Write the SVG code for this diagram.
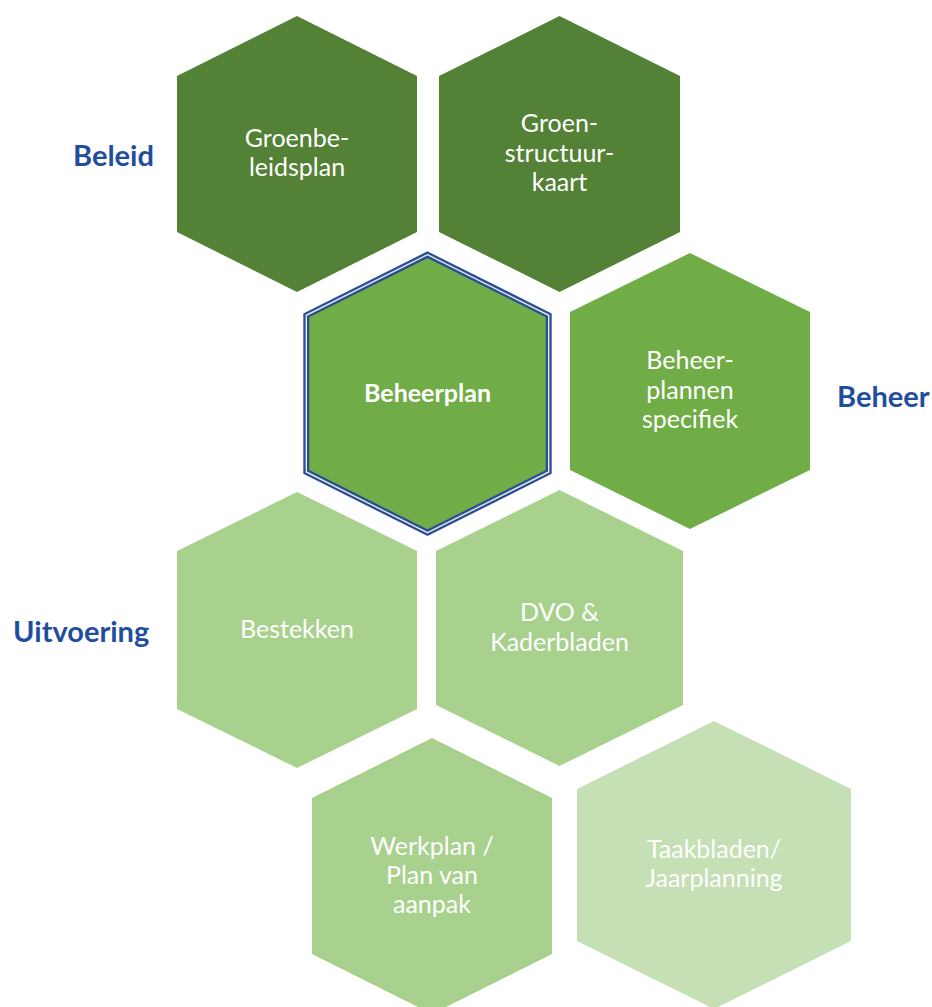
<svg xmlns="http://www.w3.org/2000/svg" width="932" height="1007" viewBox="0 0 932 1007">
<style>
.t{font-family:Lato,"Liberation Sans",sans-serif;font-size:25px;fill:#ffffff;text-anchor:middle}
.b{font-weight:bold}
.lbl{font-family:Lato,"Liberation Sans",sans-serif;font-size:29px;font-weight:bold;fill:#1F4E9E}
.dk{fill:#538135}
.md{fill:#70AD47}
.lt{fill:#A9D18E}
.xl{fill:#C5E0B4}
</style>
<rect width="932" height="1007" fill="#ffffff"/>
<g id="connectors"/>
<g id="groenbeleidsplan">
<polygon class="dk" points="297,16 417,76 417,232 297,292 177,232 177,76"/>
<text class="t" x="297" y="147">Groenbe-</text>
<text class="t" x="297" y="176">leidsplan</text>
</g>
<g id="groenstructuurkaart">
<polygon class="dk" points="559.5,16 680,76 680,232 559.5,292 439,232 439,76"/>
<text class="t" x="559.5" y="132">Groen-</text>
<text class="t" x="559.5" y="162">structuur-</text>
<text class="t" x="559.5" y="191">kaart</text>
</g>
<g id="beheerplan">
<polygon class="md" points="427.5,254.7 548.7,315.3 548.7,472 427.5,532.7 306.3,472 306.3,315.3" stroke="#2B4C9B" stroke-width="6" stroke-linejoin="miter"/>
<polygon points="427.5,254.7 548.7,315.3 548.7,472 427.5,532.7 306.3,472 306.3,315.3" fill="none" stroke="#E4ECD2" stroke-width="1.4"/>
<text class="t b" x="427.5" y="402">Beheerplan</text>
</g>
<g id="beheerplannen-specifiek">
<polygon class="md" points="690,253 810,312 810,470 690,529 570,470 570,312"/>
<text class="t" x="690" y="369">Beheer-</text>
<text class="t" x="690" y="399">plannen</text>
<text class="t" x="690" y="428">specifiek</text>
</g>
<g id="bestekken">
<polygon class="lt" points="297,492 417,551 417,709 297,768 177,709 177,551"/>
<text class="t" x="297" y="638">Bestekken</text>
</g>
<g id="dvo-kaderbladen">
<polygon class="lt" points="559.5,490 683,551 683,705 559.5,766 436,705 436,551"/>
<text class="t" x="559.5" y="621">DVO &amp;</text>
<text class="t" x="559.5" y="651">Kaderbladen</text>
</g>
<g id="werkplan">
<polygon class="lt" points="432,738 552,798 552,954 432,1014 312,954 312,798"/>
<text class="t" x="432" y="855">Werkplan /</text>
<text class="t" x="432" y="884">Plan van</text>
<text class="t" x="432" y="913">aanpak</text>
</g>
<g id="taakbladen">
<polygon class="xl" points="714,721 851,789 851,941 714,1009 577,941 577,789"/>
<text class="t" x="714" y="858">Taakbladen/</text>
<text class="t" x="714" y="887">Jaarplanning</text>
</g>
<g id="labels">
<text class="lbl" x="73" y="166">Beleid</text>
<text class="lbl" x="837" y="407">Beheer</text>
<text class="lbl" x="13" y="642">Uitvoering</text>
</g>
</svg>
